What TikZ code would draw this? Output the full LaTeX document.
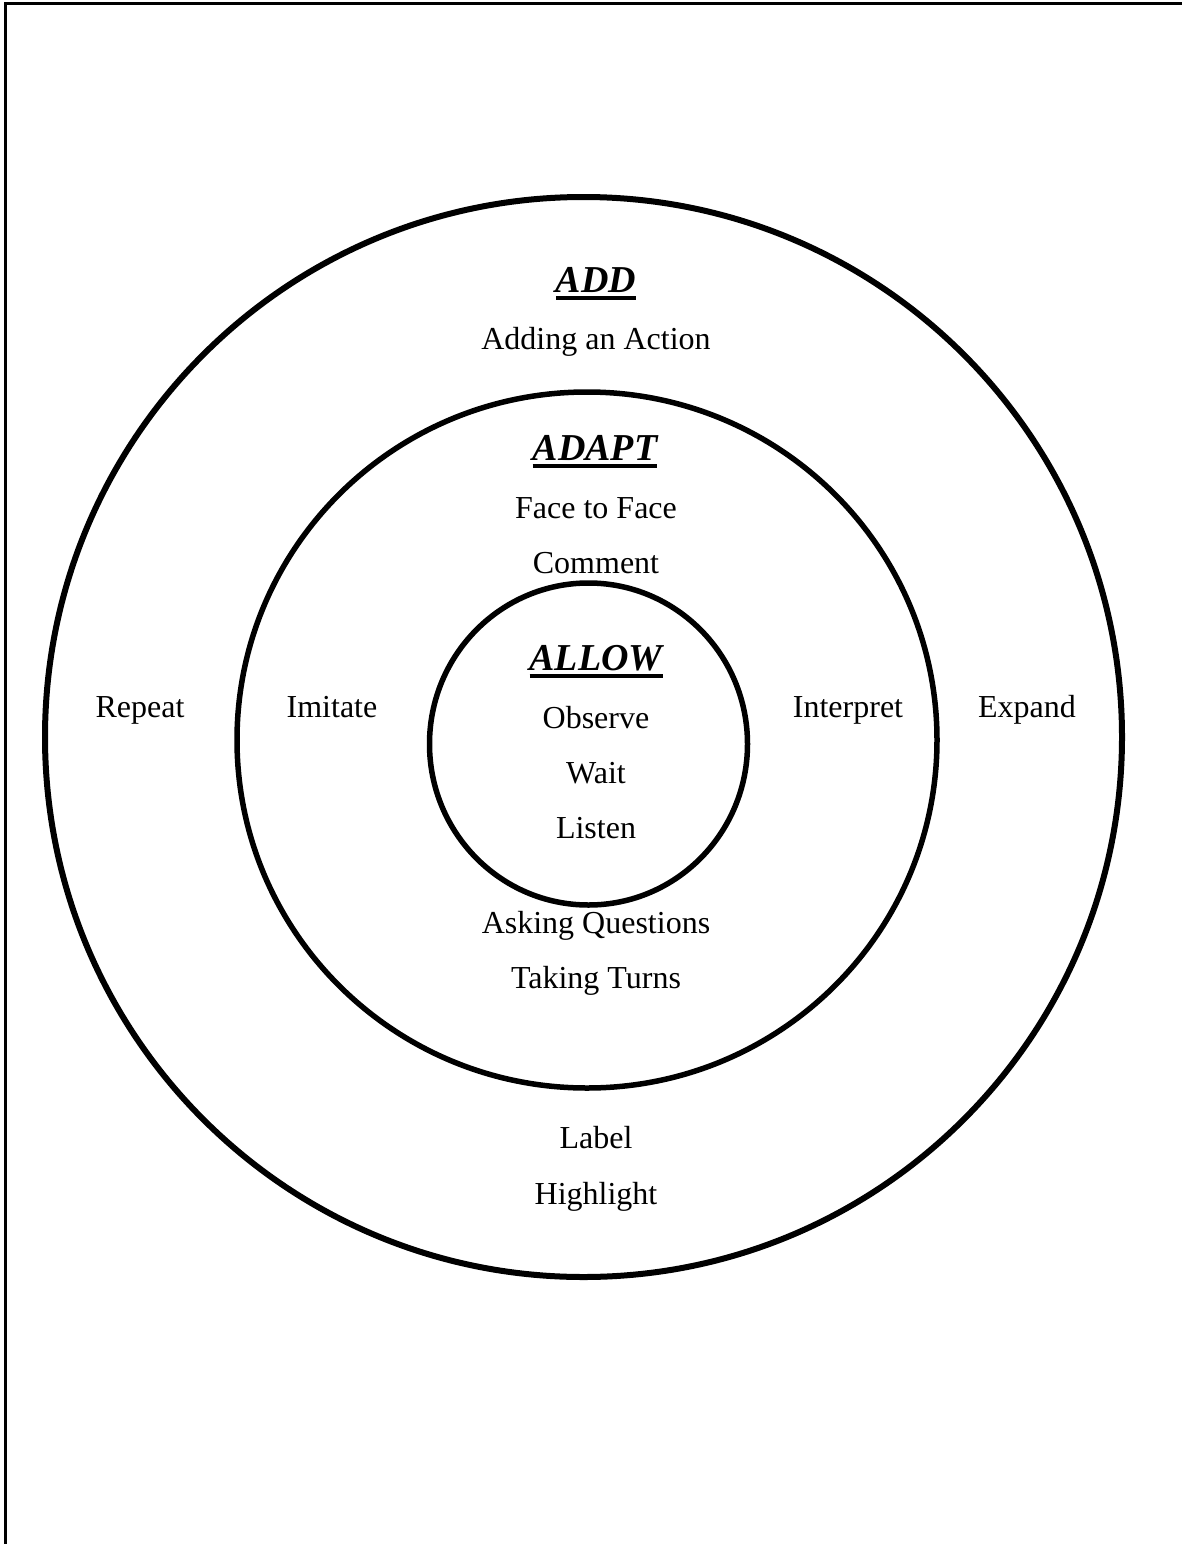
\documentclass[tikz,border=0pt]{standalone}
\usepackage{fontspec}
\setmainfont{Liberation Serif}
\newcommand\thickul[1]{\setbox0\hbox{#1}\rlap{\rule[-7.5pt]{\wd0}{4pt}}\box0}
\begin{document}
\begin{tikzpicture}[x=1pt,y=-1pt,
  ring/.style={line width=5.5pt},
  body/.style={anchor=base,inner sep=0pt,font=\fontsize{32}{38}\selectfont},
  title/.style={anchor=base,inner sep=0pt,font=\fontsize{38}{44}\selectfont\bfseries\itshape}]
\useasboundingbox (0,0) rectangle (1182,1544);
\fill[white] (0,0) rectangle (1182,1544);
% frame
\draw[line width=3pt] (5,1544) -- (5,3.5) -- (1182,3.5);
% rings
\draw[ring,line width=6pt] (583.5,737) ellipse [x radius=538.5, y radius=540];
\draw[ring] (587,740) ellipse [x radius=350, y radius=348];
\draw[ring] (588.5,744) ellipse [x radius=159, y radius=161];
% outer ring texts
\node[title] (add) at (596,292) {\thickul{ADD}};
\node[body] (adding) at (596,349) {Adding an Action};
\node[body] (repeat) at (140,717) {Repeat};
\node[body] (expand) at (1027,717) {Expand};
\node[body] (label) at (596,1148) {Label};
\node[body] (highlight) at (596,1204) {Highlight};
% middle ring texts
\node[title] (adapt) at (595,460) {\thickul{ADAPT}};
\node[body] (face) at (596,518) {Face to Face};
\node[body] (comment) at (596,573) {Comment};
\node[body] (imitate) at (332,717) {Imitate};
\node[body] (interpret) at (848,717) {Interpret};
\node[body] (asking) at (596,933) {Asking Questions};
\node[body] (taking) at (596,988) {Taking Turns};
% inner ring texts
\node[title] (allow) at (596,670) {\thickul{ALLOW}};
\node[body] (observe) at (596,728) {Observe};
\node[body] (wait) at (596,783) {Wait};
\node[body] (listen) at (596,838) {Listen};
\end{tikzpicture}
\end{document}
